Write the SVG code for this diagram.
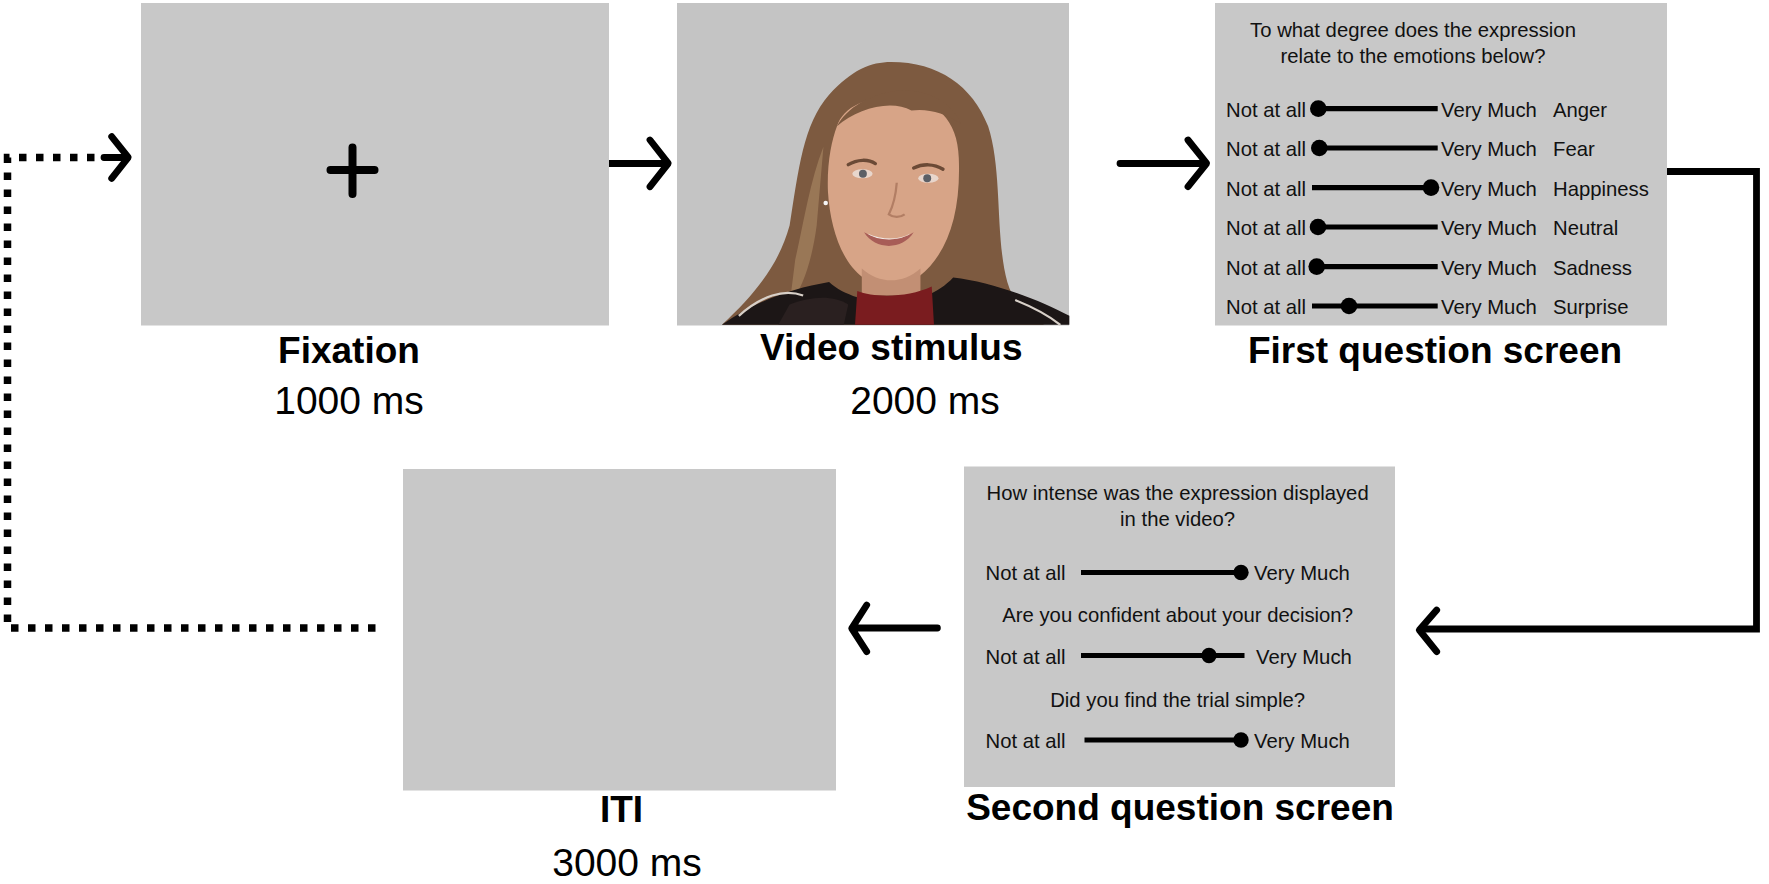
<svg xmlns="http://www.w3.org/2000/svg" width="1769" height="884" viewBox="0 0 1769 884">
<style>
.box{fill:#c8c8c8}
.t{font-family:"Liberation Sans",Arial,sans-serif;font-size:20.3px;fill:#111}
.m{text-anchor:middle}
.lbl{font-family:"Liberation Sans",Arial,sans-serif;font-size:37px;font-weight:bold;fill:#000}
.dur{font-family:"Liberation Sans",Arial,sans-serif;font-size:39px;fill:#000;text-anchor:middle}
.sl{stroke:#000;stroke-width:5.2;fill:none}
.arr{stroke:#000;stroke-width:6.8;fill:none;stroke-linecap:round;stroke-linejoin:round}
</style>
<rect width="1769" height="884" fill="#fff"/>

<g id="connectors">
  <path class="arr" d="M581,163.5 H666 M650,140 L668.3,163.3 L650,186.7"/>
  <path class="arr" d="M1120,163.5 H1205 M1188,140 L1206.7,163.3 L1188,186.7"/>
  <path d="M1667,171.5 H1756.5 V629 H1423" stroke="#000" stroke-width="6.8" fill="none" stroke-linejoin="miter"/>
  <path class="arr" d="M1436.7,610 L1419.3,630 L1436.7,651.7"/>
  <path class="arr" d="M937.4,628 H855 M866.7,605 L851.7,628.3 L866.7,651.7"/>
  <path d="M375.5,628 H7.5 V157.5 H100" stroke="#000" stroke-width="7.5" fill="none" stroke-dasharray="7.5 9.5"/>
  <path class="arr" d="M104,157.5 H126 M111.7,136.7 L128.3,157.3 L111.7,178.3"/>
</g>

<g id="fixation">
  <rect class="box" x="141" y="3" width="468" height="322.5"/>
  <path d="M330.5,170 H374.5 M352.5,147.5 V194" stroke="#000" stroke-width="8" stroke-linecap="round"/>
  <text class="lbl" x="349" y="362.7" text-anchor="middle">Fixation</text>
  <text class="dur" x="349" y="414">1000 ms</text>
</g>

<g id="video">
  <rect x="677" y="3" width="392" height="322.5" fill="#c4c4c4"/>
  <g id="photo" transform="scale(1.128)">
    <path d="M640,288 C668,262 690,236 700,200 C708,150 712,110 735,84 C755,62 772,55 790,55 C832,55 862,76 876,112 C889,152 882,210 893,250 C899,270 912,282 926,288 Z" fill="#7d5a40"/>
    <path d="M705,230 C712,200 718,160 730,130 L724,200 C720,230 712,255 700,270 Z" fill="#a5835f" opacity="0.7"/>
    <path d="M742,112 C748,92 775,84 800,86 C830,89 849,106 850,140 C852,190 840,225 815,245 C800,256 780,256 765,246 C746,232 736,202 734,170 C733,146 737,125 742,112 Z" fill="#d7a487"/>
    <path d="M742,112 C750,96 772,82 800,80 C825,80 845,92 852,110 C838,100 822,96 808,98 C790,88 760,96 742,112 Z" fill="#7d5a40"/>
    <path d="M764,238 L764,262 L816,262 L816,238 C800,252 780,252 764,238 Z" fill="#c28f74"/>
    <path d="M640,288 C668,268 700,256 735,250 C748,262 770,268 790,268 C812,268 832,260 845,246 C880,250 922,266 948,280 L948,288 Z" fill="#1c1616"/>
    <path d="M758,288 L760,258 C775,264 805,264 826,254 L828,288 Z" fill="#7a1c1f"/>
    <path d="M700,270 C720,262 740,262 752,270 L748,288 L690,288 Z" fill="#2a2020"/>
    <path d="M655,280 C675,262 695,256 712,262" stroke="#d8d0c8" stroke-width="2" fill="none"/>
    <path d="M900,266 C915,272 930,280 940,288" stroke="#d8d0c8" stroke-width="2" fill="none"/>
    <path d="M752,146 C760,141 770,141 776,145" stroke="#6b4a36" stroke-width="3" fill="none" stroke-linecap="round"/>
    <path d="M810,149 C818,145 828,145 836,150" stroke="#6b4a36" stroke-width="3" fill="none" stroke-linecap="round"/>
    <ellipse cx="764.6" cy="154" rx="9" ry="4" fill="#e8d6cc"/>
    <circle cx="765" cy="154" r="3.5" fill="#5b5f66"/>
    <ellipse cx="823" cy="158" rx="9" ry="4" fill="#e8d6cc"/>
    <circle cx="822" cy="158" r="3.5" fill="#5b5f66"/>
    <path d="M795,162 C794,175 790,186 788,190 C792,193 798,193 802,190" stroke="#b27e64" stroke-width="2" fill="none"/>
    <path d="M766,206 C780,214 798,214 810,206 C800,222 776,222 766,206 Z" fill="#a85d57"/>
    <path d="M769,207 C782,213 797,213 807,207 C798,214 778,214 769,207 Z" fill="#f4eeea"/>
    <circle cx="732" cy="180" r="2" fill="#f5f5f5"/>
  </g>
  <text class="lbl" x="760" y="360">Video stimulus</text>
  <text class="dur" x="925" y="414">2000 ms</text>
</g>

<g id="q1">
  <rect class="box" x="1215" y="3" width="452" height="322.5"/>
  <text class="t m" x="1413" y="36.7">To what degree does the expression</text>
  <text class="t m" x="1413" y="62.6">relate to the emotions below?</text>
  <g class="t">
    <text x="1226" y="116.5">Not at all</text>
    <text x="1226" y="156">Not at all</text>
    <text x="1226" y="195.5">Not at all</text>
    <text x="1226" y="235">Not at all</text>
    <text x="1226" y="274.5">Not at all</text>
    <text x="1226" y="314">Not at all</text>
    <text x="1441" y="116.5">Very Much</text>
    <text x="1441" y="156">Very Much</text>
    <text x="1441" y="195.5">Very Much</text>
    <text x="1441" y="235">Very Much</text>
    <text x="1441" y="274.5">Very Much</text>
    <text x="1441" y="314">Very Much</text>
    <text x="1553" y="116.5">Anger</text>
    <text x="1553" y="156">Fear</text>
    <text x="1553" y="195.5">Happiness</text>
    <text x="1553" y="235">Neutral</text>
    <text x="1553" y="274.5">Sadness</text>
    <text x="1553" y="314">Surprise</text>
  </g>
  <path class="sl" d="M1318.3,108.6 H1437.7 M1319.3,148 H1437.7 M1312,187.6 H1431 M1318,227 H1437.7 M1316.7,266.6 H1437.7 M1312,306 H1437.7"/>
  <circle cx="1318.3" cy="108.6" r="8.3"/>
  <circle cx="1319.3" cy="148" r="8.3"/>
  <circle cx="1431" cy="187.6" r="8.3"/>
  <circle cx="1318" cy="227" r="8.3"/>
  <circle cx="1316.7" cy="266.6" r="8.3"/>
  <circle cx="1349" cy="306" r="8.3"/>
  <text class="lbl" x="1435" y="363" text-anchor="middle">First question screen</text>
</g>

<g id="q2">
  <rect class="box" x="964" y="466.5" width="431" height="320.5"/>
  <text class="t m" x="1177.6" y="499.7">How intense was the expression displayed</text>
  <text class="t m" x="1177.6" y="525.6">in the video?</text>
  <text class="t m" x="1177.6" y="622.1">Are you confident about your decision?</text>
  <text class="t m" x="1177.6" y="707.3">Did you find the trial simple?</text>
  <g class="t">
    <text x="985.5" y="580">Not at all</text>
    <text x="985.5" y="663.5">Not at all</text>
    <text x="985.5" y="748">Not at all</text>
    <text x="1254" y="580">Very Much</text>
    <text x="1256" y="663.5">Very Much</text>
    <text x="1254" y="748">Very Much</text>
  </g>
  <path class="sl" d="M1081,572.5 H1241 M1081,655.5 H1244.5 M1084.5,740 H1241"/>
  <circle cx="1241" cy="572.5" r="7.7"/>
  <circle cx="1209" cy="655.5" r="7.7"/>
  <circle cx="1241" cy="740" r="7.7"/>
  <text class="lbl" x="1180" y="819.5" text-anchor="middle">Second question screen</text>
</g>

<g id="iti">
  <rect class="box" x="403" y="469" width="433" height="321.5"/>
  <text class="lbl" x="621.5" y="822" text-anchor="middle">ITI</text>
  <text class="dur" x="627" y="876">3000 ms</text>
</g>
</svg>
